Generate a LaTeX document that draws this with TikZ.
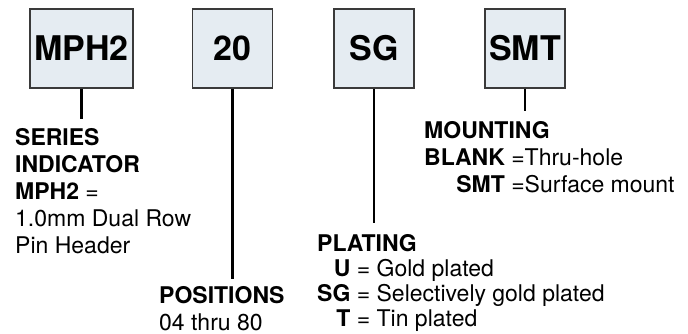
\documentclass[tikz,border=0pt]{standalone}
\usepackage{fontspec}
\setmainfont{TeX Gyre Heros}
\usepackage{tikz}
\definecolor{cajafondo}{HTML}{E5ECF2}
\definecolor{cajaborde}{HTML}{3A3A3A}
\tikzstyle{codigo} = [draw=cajaborde, fill=cajafondo, line width=1.5pt, rectangle, minimum width=80pt, minimum height=79pt, inner sep=0pt, font={\fontsize{34}{40}\selectfont\bfseries}]
\tikzstyle{tallo} = [line width=2.6pt, black]
\tikzstyle{leyenda} = [inner sep=0pt, anchor=base west, font={\fontsize{23}{27}\selectfont}]

\begin{document}
\begin{tikzpicture}[x=1pt, y=-1pt]
	\useasboundingbox (0,0) rectangle (688,334);
	% casillas del codigo
	\node [codigo, minimum width=103pt] (mph) at (81.5,48.5) {MPH2};
	\node [codigo] (pos) at (232.5,48.5) {20};
	\node [codigo] (plat) at (374,48.5) {SG};
	\node [codigo] (mont) at (525,48.5) {SMT};
	% extremos de las lineas
	\coordinate (mphFin) at ([yshift=-30pt]mph.south);
	\coordinate (posFin) at ([yshift=-190pt]pos.south);
	\coordinate (platFin) at ([yshift=-134pt]plat.south);
	\coordinate (montFin) at ([yshift=-22pt]mont.south);
	\draw[tallo] (mph) -- (mphFin);
	\draw[tallo] (pos) -- (posFin);
	\draw[tallo] (plat) -- (platFin);
	\draw[tallo] (mont) -- (montFin);
	% leyendas
	\node[leyenda] (serie) at (15,146) {%
		\begin{tabular}[t]{@{}l@{}}
			\textbf{SERIES}\\
			\textbf{INDICATOR}\\
			\textbf{MPH2} =\\
			1.0mm Dual Row\\
			Pin Header
		\end{tabular}};
	\node[leyenda] (posic) at (159,303) {%
		\begin{tabular}[t]{@{}l@{}}
			\textbf{POSITIONS}\\
			04 thru 80
		\end{tabular}};
	\node[leyenda, font={\fontsize{23}{25}\selectfont}] (chapa) at (317,251) {%
		\begin{tabular}[t]{@{}r@{ = }l@{}}
			\multicolumn{2}{@{}l@{}}{\textbf{PLATING}}\\
			\textbf{U} & Gold plated\\
			\textbf{SG} & Selectively gold plated\\
			\textbf{T} & Tin plated
		\end{tabular}};
	\node[leyenda] (montaje) at (424,139) {%
		\begin{tabular}[t]{@{}r@{ =}l@{}}
			\multicolumn{2}{@{}l@{}}{\textbf{MOUNTING}}\\
			\textbf{BLANK} & Thru-hole\\
			\textbf{SMT} & Surface mount
		\end{tabular}};
\end{tikzpicture}
\end{document}
